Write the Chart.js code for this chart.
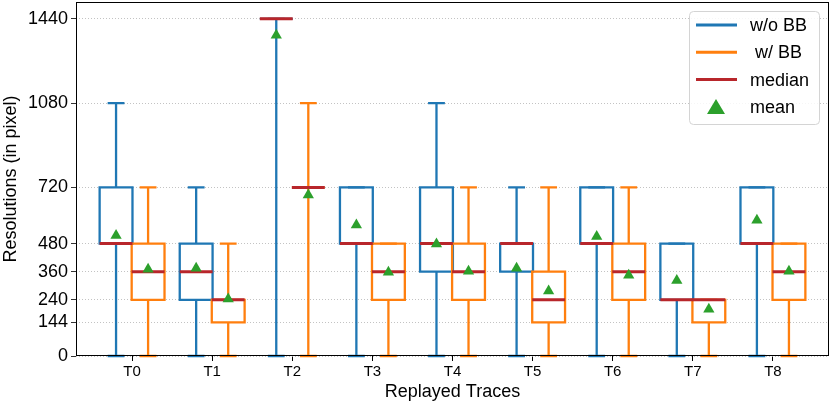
<!DOCTYPE html>
<html>
<head>
<meta charset="utf-8">
<script src="https://cdn.jsdelivr.net/npm/chart.js@4"></script>
<style>
  html, body { margin: 0; padding: 0; background: #fff; }
  #wrap { width: 830px; height: 405px; }
</style>
</head>
<body>
<div id="wrap"><canvas id="boxChart"></canvas></div>
<script>
const traces = ['T0', 'T1', 'T2', 'T3', 'T4', 'T5', 'T6', 'T7', 'T8'];
const yTicks = [0, 144, 240, 360, 480, 720, 1080, 1440];

// w/o BB
const noBBLow  = [0, 0, 0, 0, 0, 0, 0, 0, 0];
const noBBQ1   = [480, 240, 1440, 480, 360, 360, 480, 240, 480];
const noBBMed  = [480, 360, 1440, 480, 480, 480, 480, 240, 480];
const noBBQ3   = [720, 480, 1440, 720, 720, 480, 720, 480, 720];
const noBBHigh = [1080, 720, 1440, 720, 1080, 720, 720, 480, 720];
const noBBMean = [515, 375, 1370, 560, 478, 375, 510, 322, 580];

// w/ BB
const bbLow  = [0, 0, 0, 0, 0, 0, 0, 0, 0];
const bbQ1   = [240, 144, 720, 240, 240, 144, 240, 144, 240];
const bbMed  = [360, 240, 720, 360, 360, 240, 360, 240, 360];
const bbQ3   = [480, 240, 720, 480, 480, 360, 480, 240, 480];
const bbHigh = [720, 480, 1080, 480, 720, 720, 720, 240, 480];
const bbMean = [370, 243, 688, 358, 362, 278, 345, 200, 362];

const BLUE = '#1f77b4';
const ORANGE = '#ff7f0e';
const RED = '#b8262b';
const GREEN = '#2ca02c';
const FONT = 'Liberation Sans, Arial, Helvetica, sans-serif';

const groups = [
    { label: 'w/o BB', color: BLUE, shift: -0.2, low: noBBLow, q1: noBBQ1, med: noBBMed, q3: noBBQ3, high: noBBHigh },
    { label: ' w/ BB', color: ORANGE, shift: 0.2, low: bbLow, q1: bbQ1, med: bbMed, q3: bbQ3, high: bbHigh }
];
const boxW = 0.41;
const capW = 0.21;

// boxes, whiskers and medians, drawn under the mean markers
const boxPlugin = {
    id: 'boxes',
    beforeDatasetsDraw(chart) {
        const ctx = chart.ctx;
        const xs = chart.scales.x, ys = chart.scales.y;
        ctx.save();
        ctx.lineCap = 'butt';
        groups.forEach(g => {
            traces.forEach((t, i) => {
                const c = i + g.shift;
                const xl = xs.getPixelForValue(c - boxW / 2);
                const xr = xs.getPixelForValue(c + boxW / 2);
                const xm = xs.getPixelForValue(c);
                const cl = xs.getPixelForValue(c - capW / 2);
                const cr = xs.getPixelForValue(c + capW / 2);
                const yLow = ys.getPixelForValue(g.low[i]);
                const yQ1 = ys.getPixelForValue(g.q1[i]);
                const yQ3 = ys.getPixelForValue(g.q3[i]);
                const yHigh = ys.getPixelForValue(g.high[i]);
                ctx.strokeStyle = g.color;
                ctx.lineWidth = 2.3;
                ctx.beginPath();
                // whiskers
                ctx.moveTo(xm, yQ1); ctx.lineTo(xm, yLow);
                ctx.moveTo(xm, yQ3); ctx.lineTo(xm, yHigh);
                // caps
                ctx.moveTo(cl, yLow); ctx.lineTo(cr, yLow);
                ctx.moveTo(cl, yHigh); ctx.lineTo(cr, yHigh);
                ctx.stroke();
                ctx.beginPath();
                ctx.rect(xl, yQ3, xr - xl, yQ1 - yQ3);
                ctx.stroke();
            });
        });
        groups.forEach(g => {
            traces.forEach((t, i) => {
                const c = i + g.shift;
                const y = ys.getPixelForValue(g.med[i]);
                ctx.strokeStyle = RED;
                ctx.lineWidth = 3;
                ctx.beginPath();
                ctx.moveTo(xs.getPixelForValue(c - boxW / 2), y);
                ctx.lineTo(xs.getPixelForValue(c + boxW / 2), y);
                ctx.stroke();
            });
        });
        ctx.restore();
    },
    afterDraw(chart) {
        const ctx = chart.ctx;
        const a = chart.chartArea;
        ctx.save();
        // frame
        ctx.strokeStyle = '#000';
        ctx.lineWidth = 1;
        ctx.strokeRect(a.left + 0.5, a.top + 0.5, a.right - a.left - 1, a.bottom - a.top - 1);

        // legend
        const lx = 689, ly = 11, lw = 130, lh = 113;
        ctx.fillStyle = 'rgba(255,255,255,0.85)';
        ctx.strokeStyle = '#d4d4d4';
        ctx.lineWidth = 1;
        ctx.beginPath();
        ctx.roundRect(lx + 0.5, ly + 0.5, lw, lh, 4);
        ctx.fill();
        ctx.stroke();

        const rows = [
            { text: 'w/o BB', color: BLUE },
            { text: ' w/ BB', color: ORANGE },
            { text: 'median', color: RED },
            { text: 'mean', color: GREEN, marker: true }
        ];
        ctx.font = '18px ' + FONT;
        ctx.textBaseline = 'middle';
        ctx.textAlign = 'left';
        rows.forEach((r, k) => {
            const y = 25 + k * 27.3;
            if (r.marker) {
                ctx.fillStyle = r.color;
                ctx.beginPath();
                ctx.moveTo(716, y - 8);
                ctx.lineTo(707, y + 7);
                ctx.lineTo(725, y + 7);
                ctx.closePath();
                ctx.fill();
            } else {
                ctx.strokeStyle = r.color;
                ctx.lineWidth = 3;
                ctx.beginPath();
                ctx.moveTo(696, y);
                ctx.lineTo(737, y);
                ctx.stroke();
            }
            ctx.fillStyle = '#000';
            ctx.fillText(r.text, 750, y + 1);
        });
        ctx.restore();
    }
};

const ctxBox = document.getElementById('boxChart').getContext('2d');
new Chart(ctxBox, {
    type: 'scatter',
    data: {
        datasets: [
            {
                label: 'mean w/o BB',
                data: noBBMean.map((v, i) => ({ x: i - 0.2, y: v })),
                pointStyle: 'triangle',
                pointRadius: 6.5,
                backgroundColor: GREEN,
                borderColor: GREEN,
                borderWidth: 0
            },
            {
                label: 'mean w/ BB',
                data: bbMean.map((v, i) => ({ x: i + 0.2, y: v })),
                pointStyle: 'triangle',
                pointRadius: 6.5,
                backgroundColor: GREEN,
                borderColor: GREEN,
                borderWidth: 0
            }
        ]
    },
    options: {
        responsive: true,
        maintainAspectRatio: false,
        animation: false,
        layout: {
            autoPadding: false,
            padding: { top: 2, right: 1, left: 0, bottom: 0 }
        },
        scales: {
            x: {
                type: 'linear',
                min: -0.7,
                max: 8.7,
                afterBuildTicks: (scale) => {
                    scale.ticks = traces.map((t, i) => ({ value: i }));
                },
                afterFit: (scale) => {
                    scale.height = 49;
                    scale.paddingLeft = 0;
                    scale.paddingRight = 0;
                },
                grid: {
                    drawOnChartArea: false,
                    drawTicks: true,
                    tickLength: 5,
                    tickColor: '#000'
                },
                border: { display: false },
                ticks: {
                    color: '#000',
                    padding: 2,
                    maxRotation: 0,
                    font: { family: FONT, size: 15 },
                    callback: (v) => traces[v]
                },
                title: {
                    display: true,
                    text: 'Replayed Traces',
                    color: '#000',
                    font: { family: FONT, size: 18 },
                    padding: { top: 0, bottom: 2 }
                }
            },
            y: {
                min: 0,
                max: 1512,
                afterBuildTicks: (scale) => {
                    scale.ticks = yTicks.map(v => ({ value: v }));
                },
                afterFit: (scale) => {
                    scale.width = 76;
                    scale.paddingTop = 0;
                    scale.paddingBottom = 0;
                },
                grid: {
                    color: '#b4b4b4',
                    lineWidth: 0.8,
                    drawTicks: true,
                    tickLength: 5,
                    tickColor: '#000',
                    tickBorderDash: []
                },
                border: { display: false, dash: [1, 2] },
                ticks: {
                    color: '#000',
                    padding: 3,
                    autoSkip: false,
                    font: { family: FONT, size: 18 },
                    callback: (v) => String(v)
                },
                title: {
                    display: true,
                    text: 'Resolutions (in pixel)',
                    color: '#000',
                    font: { family: FONT, size: 18 },
                    padding: { top: 0, bottom: 2 }
                }
            }
        },
        plugins: {
            legend: { display: false },
            tooltip: { enabled: false }
        }
    },
    plugins: [boxPlugin]
});
</script>
</body>
</html>
